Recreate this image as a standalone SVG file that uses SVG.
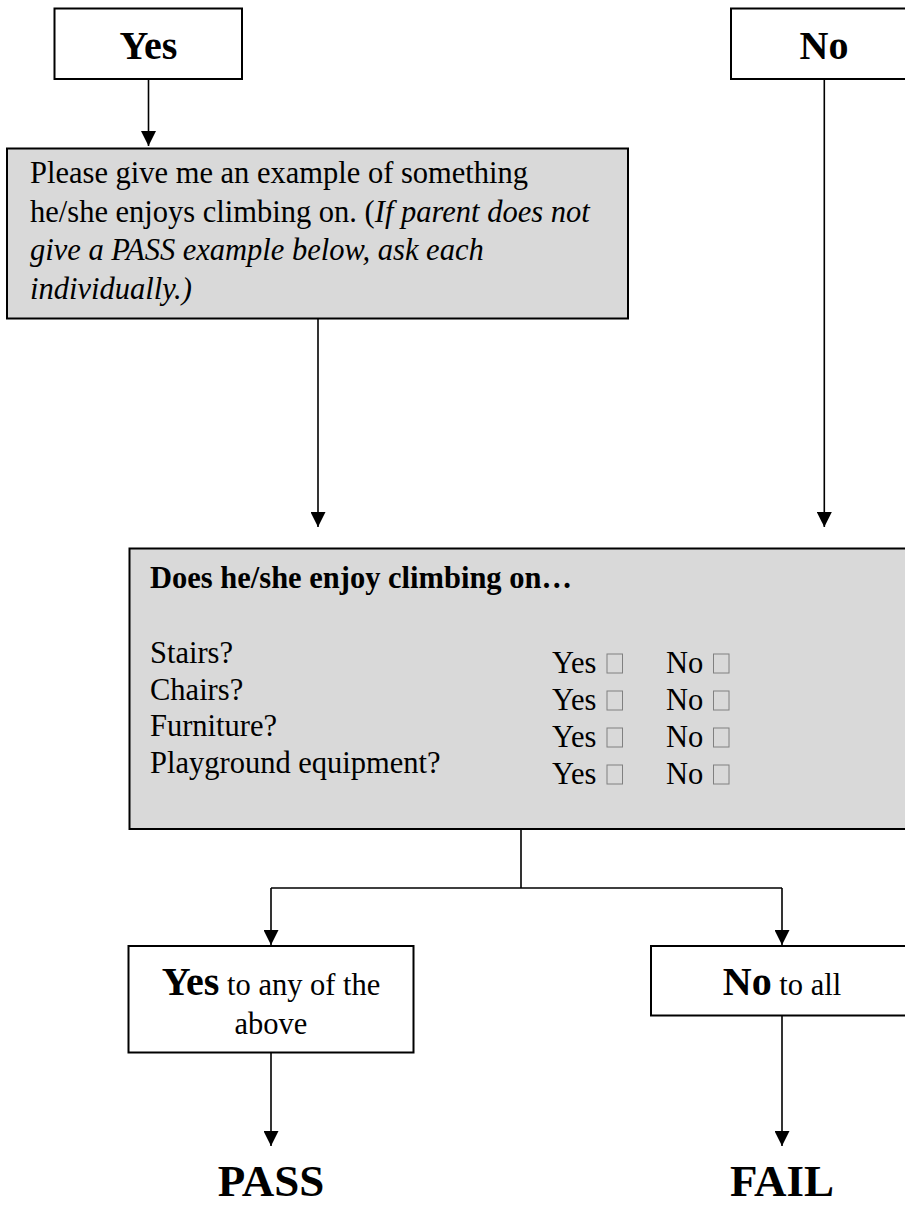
<svg xmlns="http://www.w3.org/2000/svg" width="905" height="1207" viewBox="0 0 905 1207">
<style>
.box{fill:#ffffff;stroke:#000;stroke-width:2}
.gray{fill:#d9d9d9;stroke:#000;stroke-width:2}
.t{font-family:"Liberation Serif","Times New Roman",serif;fill:#000}
.r{font-size:30.5px}
.b{font-weight:bold}
.i{font-style:italic}
.big{font-size:40px;font-weight:bold}
.huge{font-size:45px;font-weight:bold}
.cb{fill:none;stroke:#808080;stroke-width:1}
.con{fill:none;stroke:#000;stroke-width:1.6}
</style>
<defs>
<marker id="arr" markerUnits="userSpaceOnUse" markerWidth="15" markerHeight="15" viewBox="0 0 15 15" refX="15" refY="7.5" orient="auto">
<path d="M0,0 L15,7.5 L0,15 Z" fill="#000"/>
</marker>
</defs>
<rect width="905" height="1207" fill="#fff"/>
<g id="connectors">
<path class="con" d="M148.5 79 V146" marker-end="url(#arr)"/>
<path class="con" d="M318 318.5 V527" marker-end="url(#arr)"/>
<path class="con" d="M824.3 79 V527" marker-end="url(#arr)"/>
<path class="con" d="M521 829 V888 M271 888 H782"/>
<path class="con" d="M271 888 V945" marker-end="url(#arr)"/>
<path class="con" d="M782 888 V945" marker-end="url(#arr)"/>
<path class="con" d="M271 1052.5 V1146" marker-end="url(#arr)"/>
<path class="con" d="M782 1015.5 V1146" marker-end="url(#arr)"/>
</g>
<g id="yes-top">
<rect class="box" x="54.5" y="8.5" width="187.5" height="70.5"/>
<text class="t big" x="148.5" y="59.3" text-anchor="middle">Yes</text>
</g>
<g id="no-top">
<rect class="box" x="731" y="8.5" width="200" height="70.5"/>
<text class="t big" x="824" y="59.3" text-anchor="middle">No</text>
</g>
<g id="example-box">
<rect class="gray" x="7" y="148.5" width="621" height="170"/>
<text class="t r" x="30" y="183">Please give me an example of something</text>
<text class="t r" x="30" y="221.5">he/she enjoys climbing on. (<tspan class="i">If parent does not</tspan></text>
<text class="t r i" x="30" y="260">give a PASS example below, ask each</text>
<text class="t r i" x="30" y="298.5">individually.)</text>
</g>
<g id="climbing-box">
<rect class="gray" x="129.5" y="548.5" width="800" height="280.5"/>
<text class="t r b" x="150" y="588">Does he/she enjoy climbing on…</text>
<text class="t r" x="150" y="663">Stairs?</text>
<text class="t r" x="150" y="699.5">Chairs?</text>
<text class="t r" x="150" y="736">Furniture?</text>
<text class="t r" x="150" y="772.5">Playground equipment?</text>
<text class="t r" x="552" y="673">Yes</text>
<text class="t r" x="666" y="673">No</text>
<text class="t r" x="552" y="710">Yes</text>
<text class="t r" x="666" y="710">No</text>
<text class="t r" x="552" y="747">Yes</text>
<text class="t r" x="666" y="747">No</text>
<text class="t r" x="552" y="784">Yes</text>
<text class="t r" x="666" y="784">No</text>
<rect class="cb" x="607" y="654" width="15.5" height="19"/>
<rect class="cb" x="713.5" y="654" width="15.5" height="19"/>
<rect class="cb" x="607" y="691" width="15.5" height="19"/>
<rect class="cb" x="713.5" y="691" width="15.5" height="19"/>
<rect class="cb" x="607" y="728" width="15.5" height="19"/>
<rect class="cb" x="713.5" y="728" width="15.5" height="19"/>
<rect class="cb" x="607" y="765" width="15.5" height="19"/>
<rect class="cb" x="713.5" y="765" width="15.5" height="19"/>
</g>
<g id="yes-any">
<rect class="box" x="128.5" y="946" width="285" height="106.5"/>
<text class="t r" x="271" y="995" text-anchor="middle"><tspan class="b" font-size="40">Yes</tspan> to any of the</text>
<text class="t r" x="271" y="1034" text-anchor="middle">above</text>
</g>
<g id="no-all">
<rect class="box" x="651" y="946" width="300" height="69.5"/>
<text class="t r" x="782" y="995" text-anchor="middle"><tspan class="b" font-size="40">No</tspan> to all</text>
</g>
<g id="pass">
<text class="t huge" x="271" y="1196" text-anchor="middle">PASS</text>
</g>
<g id="fail">
<text class="t huge" x="782" y="1196" text-anchor="middle">FAIL</text>
</g>
</svg>
